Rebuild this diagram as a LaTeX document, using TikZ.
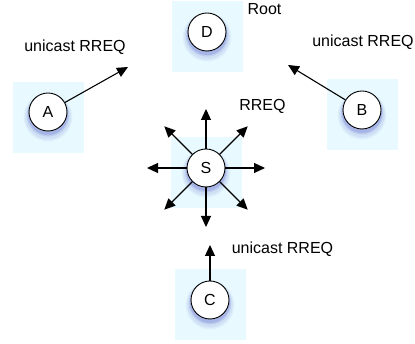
\documentclass[tikz,border=0pt]{standalone}
\usepackage{fontspec}
\setmainfont{Liberation Sans}
\usetikzlibrary{arrows.meta,shadows}
\definecolor{padblue}{RGB}{232,250,255}
\definecolor{glow}{RGB}{60,70,190}

\tikzset{
  pad/.style={fill=padblue, minimum width=71pt, minimum height=71pt, inner sep=0pt},
  station/.style={circle, draw=black, line width=0.9pt, fill=white, minimum size=38pt,
    inner sep=0pt, font=\fontsize{16}{19}\selectfont,
    general shadow={fill=glow, opacity=0.06, shadow scale=1.28, shadow yshift=-4pt},
    general shadow={fill=glow, opacity=0.08, shadow scale=1.20, shadow yshift=-4pt},
    general shadow={fill=glow, opacity=0.12, shadow scale=1.12, shadow yshift=-3pt},
    general shadow={fill=glow, opacity=0.18, shadow scale=1.05, shadow yshift=-3pt}},
  msg/.style={font=\fontsize{16}{19}\selectfont, inner sep=0pt},
  send/.style={-{Triangle[length=11pt,width=10pt]}, line width=1.1pt}
}

\begin{document}
\begin{tikzpicture}[x=1pt,y=1pt]
\useasboundingbox (0,0) rectangle (415,344);
% light squares behind the stations
\node[pad] (padD) at (207,307) {};
\node[pad] (padA) at (48,226) {};
\node[pad] (padB) at (362,229) {};
\node[pad] (padS) at (206,171) {};
\node[pad] (padC) at (210,39) {};
% stations
\node[station] (D) at ([yshift=5pt]padD.center) {D};
\node[station] (A) at ([yshift=6pt]padA.center) {A};
\node[station] (B) at ([yshift=5pt]padB.center) {B};
\node[station] (S) at ([yshift=5pt]padS.center) {S};
\node[station] (C) at ([yshift=5pt]padC.center) {C};
% labels
\node[msg] (root) at (264.5,335) {Root};
\node[msg] (msgA) at (75,297) {unicast RREQ};
\node[msg] (msgB) at (363,302) {unicast RREQ};
\node[msg] (msgS) at (262.5,238) {RREQ};
\node[msg] (msgC) at (282.5,95) {unicast RREQ};
% unicast requests towards the root
\coordinate (tipA) at (128,277);
\coordinate (tipB) at (288,279);
\coordinate (tipC) at (210,99);
\draw[send] (A) -- (tipA);
\draw[send] (B) -- (tipB);
\draw[send] (C) -- (tipC);
% broadcast from S
\foreach \a in {0,45,...,315} {
  \coordinate (out\a) at ([shift={(\a:59)}]S.center);
  \draw[send] (S) -- (out\a);
}
\end{tikzpicture}
\end{document}
